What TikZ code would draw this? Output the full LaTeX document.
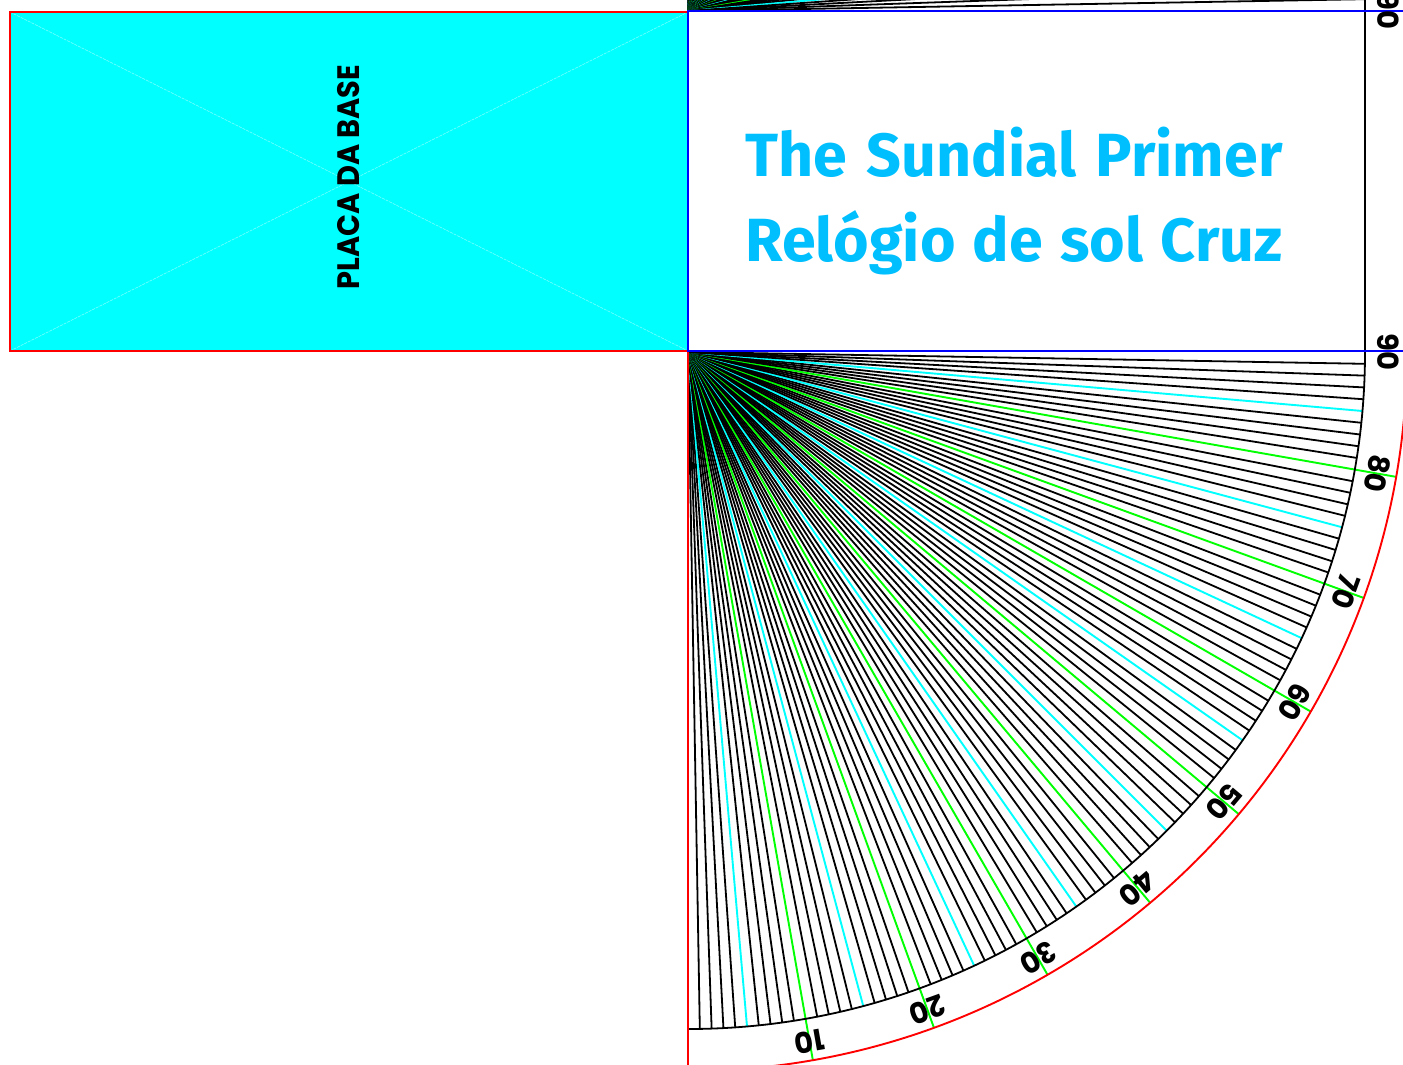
\documentclass[tikz,border=0pt]{standalone}
\usepackage{fontspec}
\usetikzlibrary{calc}
\setmainfont{Poppins}
\newfontfamily\titlefont{Fira Sans}
\definecolor{cyanfill}{RGB}{0,255,255}
\definecolor{fangreen}{RGB}{0,255,0}
\definecolor{titleblue}{RGB}{0,191,255}
\tikzset{
  blackline/.style={black,line width=1.8pt},
  cyanline/.style={cyanfill,line width=1.9pt},
  greenline/.style={fangreen,line width=1.9pt},
  redline/.style={red,line width=1.9pt},
  blueline/.style={blue,line width=2pt},
  scalelabel/.style={font=\bfseries\fontsize{29}{29}\selectfont,inner sep=0pt},
  titleline/.style={font=\titlefont\bfseries\fontsize{61}{61}\selectfont,text=titleblue,inner sep=0pt,anchor=base}
}
\begin{document}
\begin{tikzpicture}[x=1pt,y=1pt]
\useasboundingbox (0,-1065) rectangle (1403,0);
\clip (0,-1065) rectangle (1403,0);
\coordinate (low) at (688,-352);
\coordinate (up) at (688,-11);
% base plate
\fill[cyanfill] (10,-12) rectangle (688,-351);
\draw[white,opacity=.5,line width=.6pt,dash pattern=on 3pt off 1pt] (10,-12) -- (688,-351) (10,-351) -- (688,-12);
\draw[redline] (10,-12) rectangle (688,-351);
\node[rotate=90,inner sep=0pt,font=\bfseries\fontsize{31}{31}\selectfont] (plate) at (349,-177) {\scalebox{.93}[1]{PLACA DA BASE}};
% fans, ray by ray in order
\foreach \t in {1,...,90}{
  \pgfmathtruncatemacro{\mten}{mod(\t,10)}
  \pgfmathtruncatemacro{\mfive}{mod(\t,5)}
  \ifnum\mten=0
    \ifnum\t=90 \else
    \draw[greenline] (low) -- ++({\t-90}:719);
    \draw[greenline] (up) -- ++({90-\t}:719);
    \fi
  \else
    \ifnum\mfive=0
      \draw[cyanline] (low) -- ++({\t-90}:677);
      \draw[cyanline] (up) -- ++({90-\t}:677);
    \else
      \draw[blackline] (low) -- ++({\t-90}:677);
      \draw[blackline] (up) -- ++({90-\t}:677);
    \fi
  \fi
}
% arcs
\draw[blackline] (688,-1029) arc[start angle=-90,end angle=0,radius=677];
\draw[blackline] (1365,-352) -- (1365,-11) arc[start angle=0,end angle=10,radius=677];
\draw[redline] (688,-1071) arc[start angle=-90,end angle=0,radius=719];
\draw[redline] (688,-352) -- (688,-1065);
% frame
\draw[blueline] (1403,-11) -- (688,-11) -- (688,-351) -- (1403,-351);
% labels
\foreach \t in {10,20,...,90}{
  \node[scalelabel,rotate=\t-180] (lab\t) at ($(low)+({\t-90}:700)$) {\t};
}
\node[scalelabel,rotate=-90] (labup) at (1388,-11) {90};
% title
\node[titleline] (t1) at (1014,-176) {\makebox[537pt][s]{The\hfill Sundial\hfill Primer}};
\node[titleline] (t2) at (1014,-261) {\makebox[537pt][s]{Relógio\hfill de\hfill sol\hfill Cruz}};
\end{tikzpicture}
\end{document}
